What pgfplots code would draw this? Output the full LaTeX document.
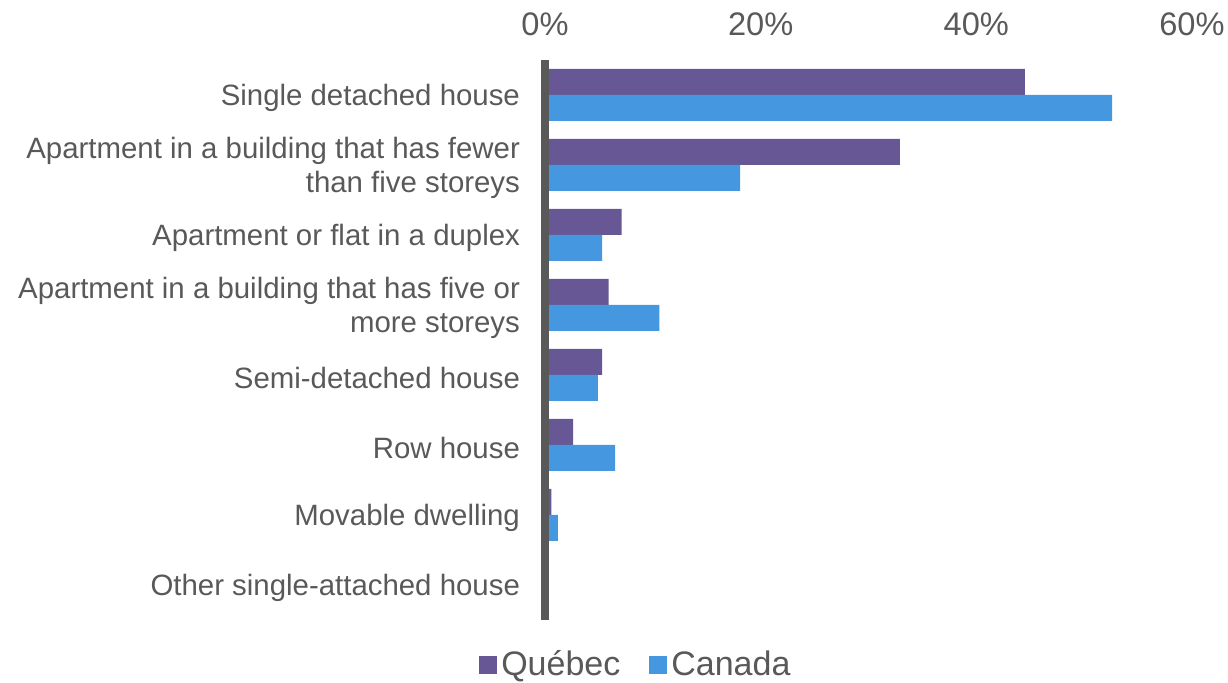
\documentclass[border=0pt]{standalone}
\usepackage{fontspec}
\setmainfont{Liberation Sans}
\usepackage{pgfplots}
\pgfplotsset{compat=1.18}
\definecolor{qc}{HTML}{675794}
\definecolor{ca}{HTML}{4597E0}
\definecolor{txt}{HTML}{595959}
\begin{document}
\begin{tikzpicture}
\begin{axis}[
 name=ax, set layers,
 scale only axis, width=323.5pt, height=280pt,
 xbar, bar width=13pt,
 xmin=0, xmax=60,
 ymin=-0.5, ymax=7.5, y dir=reverse,
 axis line style={draw=none},
 xticklabel pos=upper,
 xtick={0,20,40,60},
 xticklabel={\pgfmathprintnumber{\tick}\%},
 ytick={0,...,7},
 yticklabels={Single detached house,{Apartment in a building that has fewer\\than five storeys},Apartment or flat in a duplex,{Apartment in a building that has five or\\more storeys},Semi-detached house,Row house,Movable dwelling,Other single-attached house},
 major tick length=0pt,
 tick style={draw=none},
 xticklabel style={font=\fontsize{16.3}{19}\selectfont, text=txt, yshift=8.5pt},
 yticklabel style={font=\fontsize{14.7}{17}\selectfont, text=txt, align=right, xshift=-9pt, yshift=-1.5pt},
 /pgf/number format/assume math mode=true,
 legend style={draw=none, at={(0.142,-0.08)}, anchor=center, font=\fontsize{17}{20}\selectfont, text=txt, /tikz/every even column/.append style={column sep=12.5pt}},
 legend columns=2,
 legend image code/.code={\fill[#1] (0pt,-4.5pt) rectangle (9pt,4.5pt);},
]
\addplot[fill=qc, draw=none, bar shift=6.5pt] coordinates {(44.5,0) (32.9,1) (7.1,2) (5.9,3) (5.3,4) (2.6,5) (0.6,6) (0.3,7)};
\addplot[fill=ca, draw=none, bar shift=-6.5pt] coordinates {(52.6,0) (18.1,1) (5.3,2) (10.6,3) (4.9,4) (6.5,5) (1.2,6) (0.1,7)};
\legend{Québec,Canada}
\begin{pgfonlayer}{axis foreground}
\draw[txt, line width=4pt] (axis cs:0,-0.5) -- (axis cs:0,7.5);
\end{pgfonlayer}
\end{axis}
\pgfresetboundingbox
\path[use as bounding box] ([xshift=-272.5pt,yshift=-31.5pt]ax.south west) rectangle ([xshift=341.5pt,yshift=310pt]ax.south west);
\end{tikzpicture}
\end{document}
